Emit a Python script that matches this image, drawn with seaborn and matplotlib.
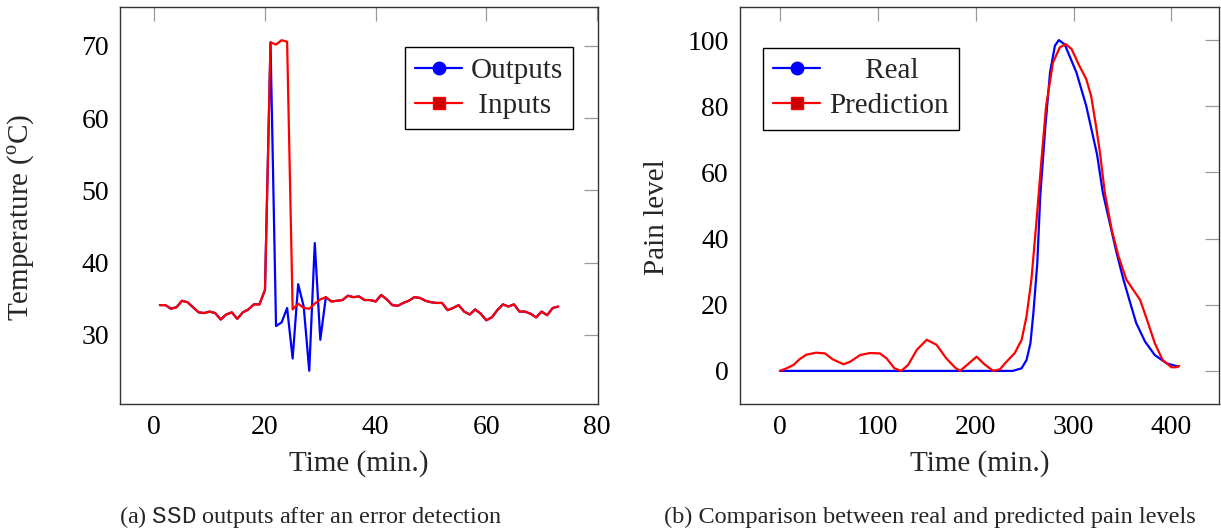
import numpy as np
import pandas as pd
import matplotlib
matplotlib.use("Agg")
import matplotlib.pyplot as plt
import seaborn as sns
from matplotlib.lines import Line2D

# ── data: (a) SSD outputs after an error detection ──
time_a = np.arange(1, 74)
inputs_a = [34.1, 34.1, 33.6, 33.8, 34.7, 34.5, 33.8, 33.1, 33.0, 33.2,
            33.0, 32.1, 32.8, 33.1, 32.2, 33.1, 33.5, 34.2, 34.2, 36.2,
            70.5, 70.2, 70.8, 70.6, 33.5, 34.3, 33.7, 33.6, 34.3, 34.9,
            35.2, 34.6, 34.7, 34.8, 35.4, 35.2, 35.3, 34.8, 34.8, 34.6,
            35.5, 34.9, 34.1, 34.0, 34.4, 34.7, 35.2, 35.1, 34.7, 34.5,
            34.4, 34.4, 33.4, 33.7, 34.1, 33.2, 32.8, 33.5, 32.9, 32.0,
            32.4, 33.4, 34.2, 33.9, 34.2, 33.2, 33.2, 32.9, 32.4, 33.2,
            32.7, 33.7, 33.9]
outputs_a = [34.1, 34.1, 33.6, 33.8, 34.7, 34.5, 33.8, 33.1, 33.0, 33.2,
             33.0, 32.1, 32.8, 33.1, 32.2, 33.1, 33.5, 34.2, 34.2, 36.2,
             70.5, 31.2, 31.7, 33.7, 26.7, 37.0, 33.9, 25.0, 42.7, 29.3,
             35.2, 34.6, 34.7, 34.8, 35.4, 35.2, 35.3, 34.8, 34.8, 34.6,
             35.5, 34.9, 34.1, 34.0, 34.4, 34.7, 35.2, 35.1, 34.7, 34.5,
             34.4, 34.4, 33.4, 33.7, 34.1, 33.2, 32.8, 33.5, 32.9, 32.0,
             32.4, 33.4, 34.2, 33.9, 34.2, 33.2, 33.2, 32.9, 32.4, 33.2,
             32.7, 33.7, 33.9]

# ── data: (b) real vs predicted pain level ──
real_t = [0, 100, 200, 238, 247, 252, 256, 259, 263, 266, 271, 276, 281, 285,
          291, 303, 313, 324, 330, 337, 344, 351, 358, 364, 373, 383, 395, 407]
real_y = [0, 0, 0, 0, 0.8, 3.3, 8.4, 17.5, 32.6, 52.8, 73, 90.2, 98.3, 100,
          98.7, 90.2, 80.1, 65.5, 53.8, 44.7, 35.7, 27.6, 20.5, 14.5, 8.9,
          4.8, 2.3, 1.3]
pred_t = [0, 7, 14, 20, 27, 37, 46, 54, 65, 72, 82, 92, 102, 109, 117, 124,
          131, 140, 150, 160, 170, 179, 184, 192, 201, 209, 218, 225, 230,
          240, 247, 252, 257, 262, 267, 272, 279, 286, 292, 298, 306, 313,
          318, 323, 327, 332, 339, 346, 354, 361, 368, 375, 383, 391, 400,
          405, 408]
pred_y = [0, 0.8, 1.8, 3.5, 4.9, 5.5, 5.3, 3.5, 2.0, 2.8, 4.8, 5.4, 5.3, 3.8,
          0.8, 0, 1.8, 6.4, 9.4, 7.9, 3.8, 1.0, 0, 2.0, 4.3, 2.0, 0, 0.5, 2.3,
          5.4, 9.4, 16.5, 27.6, 44.7, 62.9, 80.1, 93.2, 97.8, 98.8, 97.3,
          92.2, 88.2, 83.1, 74, 66, 53.8, 42.7, 34.6, 27.6, 24.5, 21.5, 15.5,
          8.4, 3.3, 1.1, 1.1, 1.5]

# ── style ──
sns.set_theme(style="white")
plt.rcParams['font.family'] = ['Liberation Serif', 'DejaVu Serif']
plt.rcParams['mathtext.fontset'] = 'custom'
plt.rcParams['mathtext.rm'] = 'Liberation Serif'
plt.rcParams['mathtext.tt'] = 'Liberation Mono'

BLUE, RED = '#0000ff', '#ff0000'
TICK_FS = 20
LABEL_FS = 21

fig = plt.figure(figsize=(12.21, 5.31), dpi=100)
ax1 = fig.add_axes([0.0983, 0.2392, 0.3915, 0.7476])
ax2 = fig.add_axes([0.6060, 0.2392, 0.3925, 0.7476])
renderer = fig.canvas.get_renderer()


def text_width(s, fs):
    t = fig.text(0, 0, s, fontsize=fs)
    w = t.get_window_extent(renderer).width
    t.remove()
    return w


def style(ax):
    for s in ax.spines.values():
        s.set_visible(True)
        s.set_color('#333333')
        s.set_linewidth(1.0)
    ax.tick_params(direction='in', length=10, width=0.9, color='#999999',
                   top=True, right=True, labelsize=TICK_FS, pad=8,
                   labelcolor='black')


def legend(ax, labels, loc, anchor):
    # pgfplots centres the legend texts: pad the short ones with spaces
    space = text_width('x x', LABEL_FS) - text_width('xx', LABEL_FS)
    widths = [text_width(s, LABEL_FS) for s in labels]
    padded = [' ' * int(round((max(widths) - w) / 2 / space)) + s
              for s, w in zip(labels, widths)]
    handles = [
        Line2D([], [], color=BLUE, lw=1.6, marker='o', markersize=9,
               markerfacecolor=BLUE, markeredgecolor=BLUE),
        Line2D([], [], color=RED, lw=1.6, marker='s', markersize=9,
               markerfacecolor='#cc0000', markeredgecolor=RED),
    ]
    leg = ax.legend(handles, padded, loc=loc, bbox_to_anchor=anchor,
                    fontsize=LABEL_FS, frameon=True, fancybox=False,
                    framealpha=1, edgecolor='black', borderaxespad=0,
                    borderpad=0.35, handlelength=1.6, handletextpad=0.3,
                    labelspacing=0.3)
    leg.get_frame().set_linewidth(1.0)


# (a)
sns.lineplot(x=time_a, y=outputs_a, ax=ax1, color=BLUE, lw=1.6)
sns.lineplot(x=time_a, y=inputs_a, ax=ax1, color=RED, lw=1.6)
ax1.set_xlim(-6.2, 80.2)
ax1.set_ylim(20.4, 75.4)
ax1.set_xticks([0, 20, 40, 60, 80])
ax1.set_yticks([30, 40, 50, 60, 70])
style(ax1)
ax1.set_xlabel('Time (min.)', fontsize=LABEL_FS, labelpad=7)
ax1.set_ylabel(r'Temperature ($^{\rm o}$C)', fontsize=LABEL_FS)
ax1.yaxis.set_label_coords(-0.174, 0.47)
legend(ax1, ['Outputs', 'Inputs'], 'upper right', (0.948, 0.899))

# (b)
sns.lineplot(x=real_t, y=real_y, ax=ax2, color=BLUE, lw=1.6)
sns.lineplot(x=pred_t, y=pred_y, ax=ax2, color=RED, lw=1.6)
ax2.set_xlim(-40.8, 448.8)
ax2.set_ylim(-10, 110)
ax2.set_xticks([0, 100, 200, 300, 400])
ax2.set_yticks([0, 20, 40, 60, 80, 100])
style(ax2)
ax2.set_xlabel('Time (min.)', fontsize=LABEL_FS, labelpad=7)
ax2.set_ylabel('Pain level', fontsize=LABEL_FS)
ax2.yaxis.set_label_coords(-0.146, 0.47)
legend(ax2, ['Real', 'Prediction'], 'upper left', (0.0487, 0.898))

# captions
fig.text(311 / 1221, 1 - 517 / 531,
         r'(a) $\mathtt{SSD}$ outputs after an error detection',
         fontsize=17.5, ha='center', va='center')
fig.text(930 / 1221, 1 - 517 / 531,
         '(b) Comparison between real and predicted pain levels',
         fontsize=17.5, ha='center', va='center')

fig.savefig('out.png', dpi=100)
